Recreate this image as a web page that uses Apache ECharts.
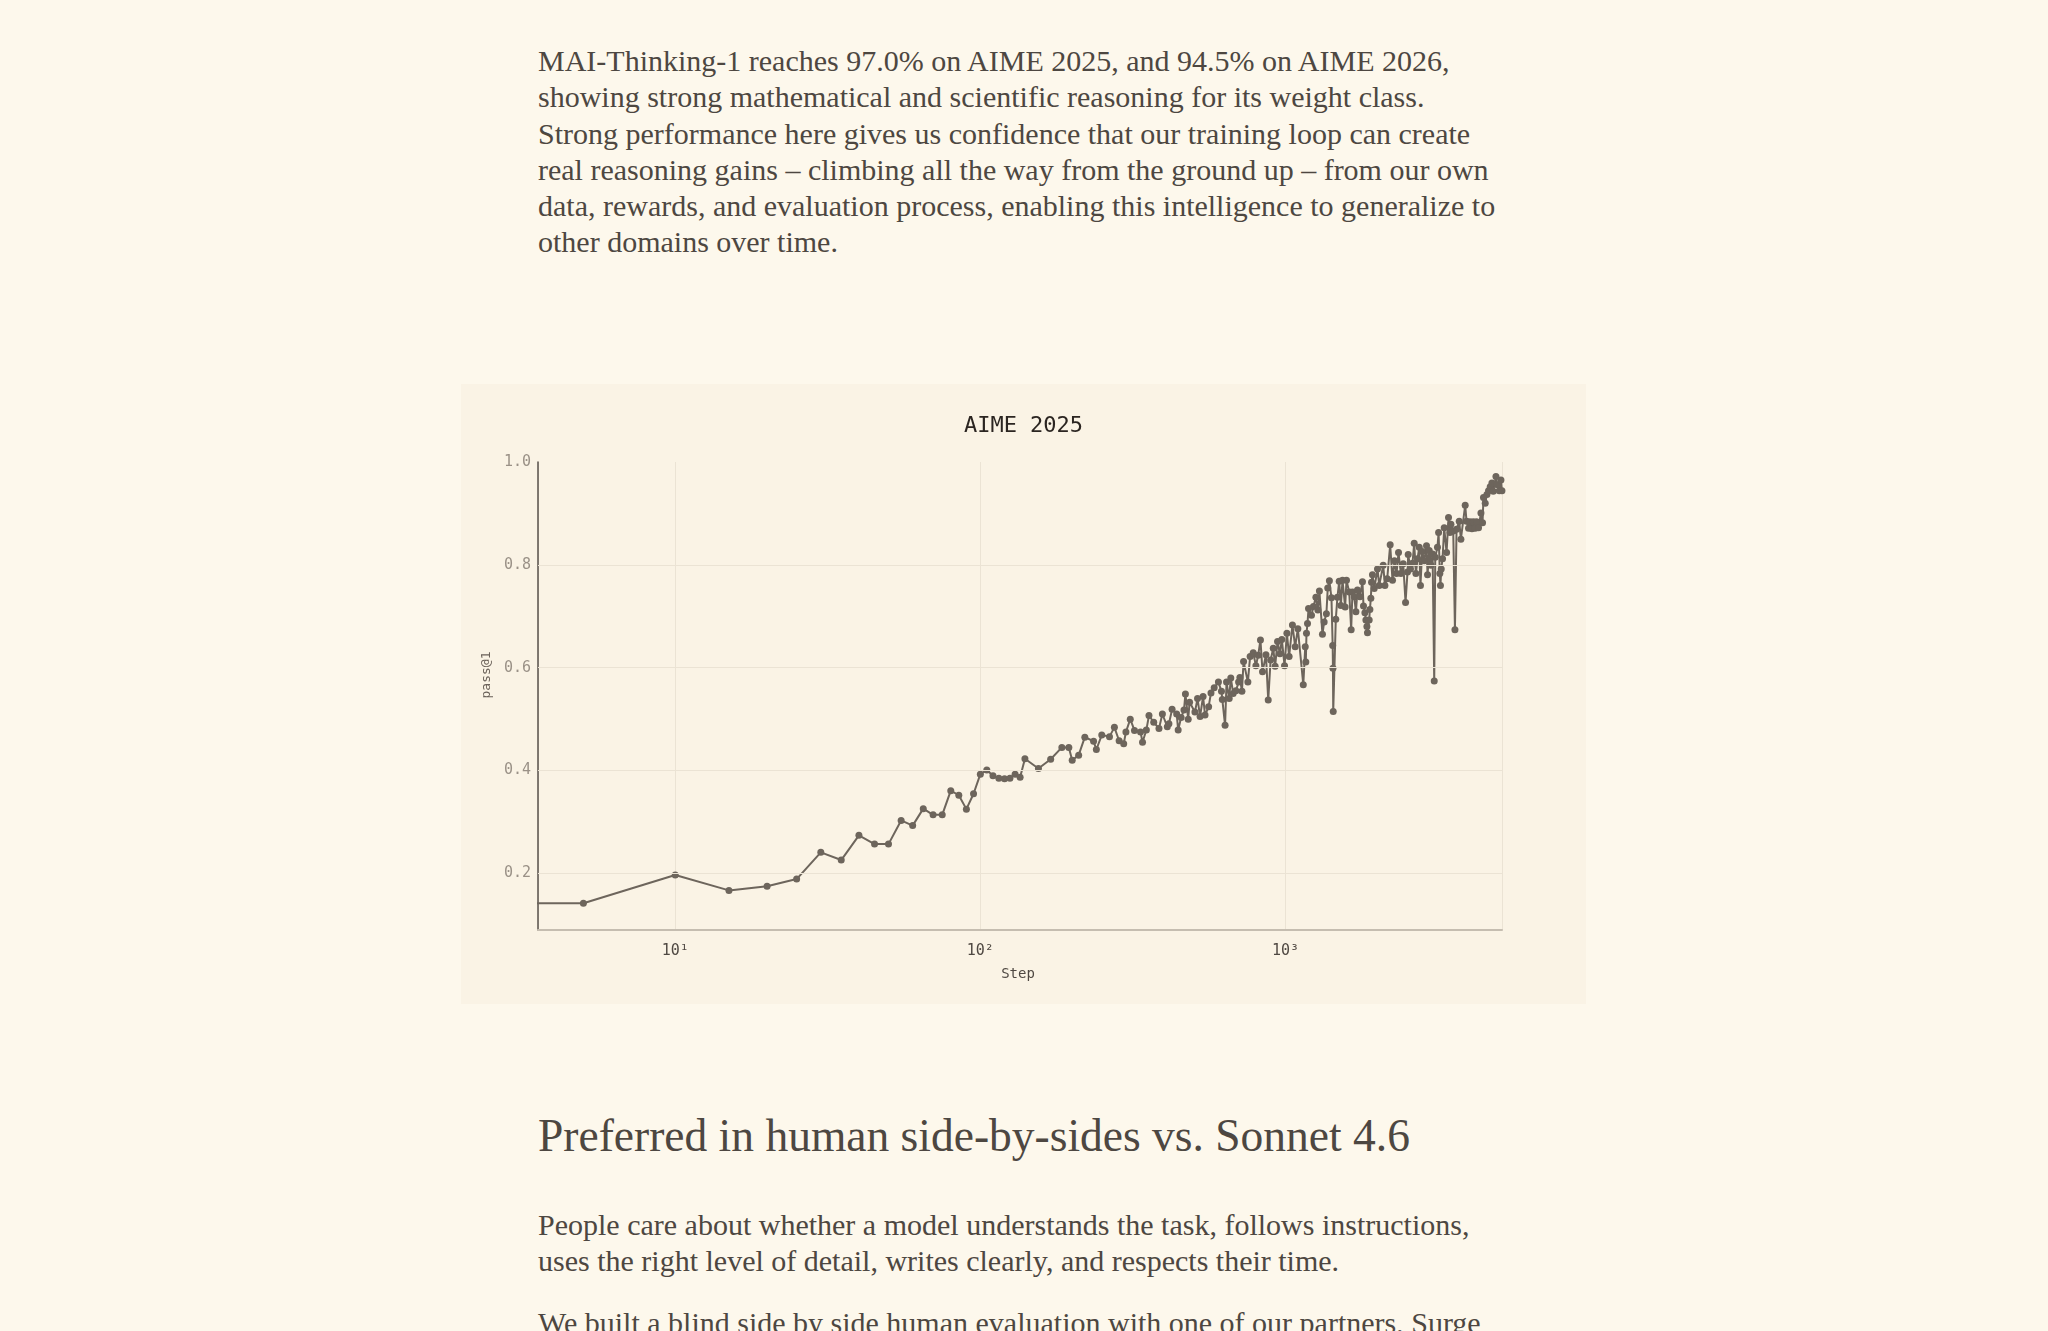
<!DOCTYPE html>
<html>
<head>
<meta charset="utf-8">
<script src="https://cdn.jsdelivr.net/npm/echarts@6/dist/echarts.min.js"></script>
<style>
  html, body { margin: 0; padding: 0; background: #fdf8ec; }
  body { width: 2048px; height: 1331px; overflow: hidden; position: relative;
         font-family: "Liberation Serif", serif; color: #4d4741; }
  .txt { position: absolute; left: 538px; margin: 0; font-size: 30px; line-height: 36.3px; white-space: nowrap; }
  h2 { position: absolute; left: 538px; top: 1108px; margin: 0; font-weight: normal;
       font-size: 45.5px; line-height: 56px; white-space: nowrap; color: #4d4741; }
  #chart { position: absolute; left: 461px; top: 384px; width: 1125px; height: 620px; background: #faf3e5; }
</style>
</head>
<body>
<p class="txt" style="top:43px">MAI-Thinking-1 reaches 97.0% on AIME 2025, and 94.5% on AIME 2026,<br>showing strong mathematical and scientific reasoning for its weight class.<br>Strong performance here gives us confidence that our training loop can create<br>real reasoning gains – climbing all the way from the ground up – from our own<br>data, rewards, and evaluation process, enabling this intelligence to generalize to<br>other domains over time.</p>

<div id="chart"></div>

<h2>Preferred in human side-by-sides vs. Sonnet 4.6</h2>
<p class="txt" style="top:1207px">People care about whether a model understands the task, follows instructions,<br>uses the right level of detail, writes clearly, and respects their time.</p>
<p class="txt" style="top:1305px">We built a blind side by side human evaluation with one of our partners, Surge</p>

<script>
// eval checkpoints (training step) and AIME 2025 pass@1
var steps = [1, 5, 10, 15, 20, 25, 30, 35, 40, 45, 50, 55, 60, 65, 70, 75, 80, 85, 90, 95,
  100, 105, 110, 115, 120, 125, 130, 135, 140, 155, 170, 185, 195, 200, 210, 220, 235, 240,
  250, 265, 275, 285, 295, 300, 310, 320, 335, 340, 350, 357, 370, 385, 395, 410, 415, 425,
  440, 445, 455, 465, 470, 480, 485, 505, 515, 525, 537, 545, 560, 570, 584, 603, 617, 621,
  634, 641, 654, 662, 674, 688, 702, 709, 720, 729, 753, 766, 784, 800, 814, 828, 841, 863,
  878, 894, 912, 925, 942, 959, 973, 993, 1011, 1028, 1054, 1076, 1098, 1144, 1161, 1166,
  1172, 1181, 1190, 1217, 1235, 1258, 1277, 1292, 1322, 1339, 1362, 1376, 1393, 1415, 1428,
  1431, 1434, 1462, 1480, 1500, 1519, 1538, 1569, 1585, 1618, 1642, 1658, 1680, 1702, 1722,
  1754, 1788, 1802, 1821, 1835, 1849, 1857, 1881, 1891, 1905, 1915, 1928, 1954, 2003, 2029,
  2091, 2118, 2155, 2204, 2243, 2277, 2312, 2347, 2390, 2432, 2475, 2512, 2525, 2569, 2608,
  2642, 2676, 2710, 2744, 2770, 2805, 2850, 2899, 2922, 2959, 2998, 3035, 3073, 3097, 3149,
  3176, 3206, 3221, 3240, 3272, 3314, 3373, 3423, 3459, 3486, 3547, 3593, 3637, 3711, 3758,
  3882, 3921, 3981, 4024, 4085, 4125, 4187, 4229, 4294, 4372, 4425, 4457, 4516, 4574, 4630,
  4689, 4750, 4798, 4896, 4943, 5020, 5084, 5123];
var pass1 = [0.142, 0.142, 0.197, 0.167, 0.175, 0.189, 0.241, 0.226, 0.274, 0.257, 0.257, 0.303,
  0.293, 0.326, 0.314, 0.314, 0.361, 0.352, 0.325, 0.355,
  0.393, 0.401, 0.390, 0.385, 0.384, 0.385, 0.393, 0.387, 0.423, 0.404, 0.422, 0.445, 0.445, 0.420,
  0.430, 0.465, 0.457, 0.441,
  0.469, 0.466, 0.484, 0.458, 0.452, 0.475, 0.500, 0.478, 0.475, 0.455, 0.479, 0.507, 0.494, 0.482,
  0.510, 0.485, 0.491, 0.519,
  0.510, 0.479, 0.503, 0.518, 0.549, 0.500, 0.533, 0.514, 0.540, 0.505, 0.544, 0.508, 0.524, 0.551,
  0.561, 0.572, 0.554, 0.538,
  0.488, 0.572, 0.540, 0.580, 0.550, 0.555, 0.572, 0.581, 0.554, 0.612, 0.572, 0.622, 0.629, 0.604,
  0.624, 0.654, 0.592, 0.625,
  0.537, 0.615, 0.638, 0.603, 0.651, 0.627, 0.655, 0.604, 0.667, 0.622, 0.683, 0.641, 0.676, 0.567,
  0.641, 0.611,
  0.667, 0.686, 0.715, 0.702, 0.719, 0.737, 0.712, 0.749, 0.665, 0.689, 0.705, 0.755, 0.769, 0.736,
  0.643,
  0.599, 0.515, 0.694, 0.737, 0.768, 0.721, 0.770, 0.718, 0.770, 0.747, 0.674, 0.747, 0.738, 0.709,
  0.751,
  0.738, 0.767, 0.720, 0.707, 0.693, 0.680, 0.668, 0.693, 0.713, 0.735, 0.766, 0.781, 0.754, 0.792,
  0.760,
  0.799, 0.760, 0.773, 0.839, 0.770, 0.808, 0.783, 0.824, 0.783, 0.802, 0.727, 0.786, 0.820, 0.792,
  0.803,
  0.842, 0.783, 0.812, 0.834, 0.760, 0.826, 0.808, 0.837, 0.781, 0.828, 0.799, 0.821, 0.574, 0.815,
  0.834,
  0.863, 0.783, 0.760, 0.792, 0.812, 0.872, 0.824, 0.892, 0.863, 0.879, 0.866, 0.674, 0.869, 0.885,
  0.850,
  0.916, 0.885, 0.871, 0.884, 0.870, 0.884, 0.871, 0.884, 0.872, 0.901, 0.882, 0.931, 0.920, 0.937,
  0.944,
  0.952, 0.959, 0.943, 0.972, 0.956, 0.944, 0.965, 0.944];

var xTickLabels = { 10: '10\u00b9', 100: '10\u00b2', 1000: '10\u00b3' };
var yGridValues = [0.2, 0.4, 0.6, 0.8];

var mono = '"DejaVu Sans Mono", monospace';
var lineColor = '#6d655c';

var chart = echarts.init(document.getElementById('chart'));
var points = [];
for (var i = 0; i < steps.length; i++) {
  points.push([steps[i], pass1[i]]);
}

var option = {
  animation: false,
  title: {
    text: 'AIME 2025',
    left: 'center',
    top: 26,
    textStyle: { fontFamily: mono, fontSize: 22, fontWeight: 'normal', color: '#2b2521' }
  },
  grid: { left: 77, top: 78, width: 964, height: 468 },
  xAxis: {
    type: 'log',
    logBase: 10,
    min: 3.55,
    max: 5125,
    name: 'Step',
    nameLocation: 'middle',
    nameGap: 37,
    nameTextStyle: { fontFamily: mono, fontSize: 14, color: '#4f4842', padding: [0, 4, 0, 0] },
    axisLine: { show: true, lineStyle: { color: '#c5bdb0', width: 2 } },
    axisTick: { show: false },
    axisLabel: {
      margin: 14,
      fontFamily: mono,
      fontSize: 15,
      color: '#4f4842',
      formatter: function (v) {
        var r = Math.round(v);
        return xTickLabels[r] && Math.abs(v - r) < 1e-6 ? xTickLabels[r] : '';
      }
    },
    splitLine: { show: true, lineStyle: { color: '#ebe3d4', width: 1 } }
  },
  yAxis: {
    type: 'value',
    min: 0.09,
    max: 1.0,
    splitNumber: 5,
    name: 'pass@1',
    nameLocation: 'middle',
    nameGap: 45,
    nameTextStyle: { fontFamily: mono, fontSize: 13, color: '#6b625a', padding: [0, 0, 0, 42] },
    axisLine: { show: true, lineStyle: { color: '#57514b', width: 1.5 } },
    axisTick: { show: false },
    axisLabel: {
      margin: 7,
      fontFamily: mono,
      fontSize: 15,
      color: '#9a9187',
      formatter: function (v) {
        return Math.abs(v * 5 - Math.round(v * 5)) < 1e-6 ? v.toFixed(1) : '';
      }
    },
    splitLine: { show: false }
  },
  series: [
    {
      type: 'line',
      data: [],
      z: 1,
      silent: true,
      markLine: {
        silent: true,
        symbol: 'none',
        label: { show: false },
        lineStyle: { color: '#ebe3d4', width: 1, type: 'solid' },
        data: yGridValues.map(function (v) { return { yAxis: v }; })
      }
    },
    {
      type: 'line',
      z: 3,
      data: points,
      clip: true,
      symbol: 'circle',
      symbolSize: 7,
      lineStyle: { color: lineColor, width: 2 },
      itemStyle: { color: lineColor }
    }
  ]
};
chart.setOption(option);
</script>
</body>
</html>
